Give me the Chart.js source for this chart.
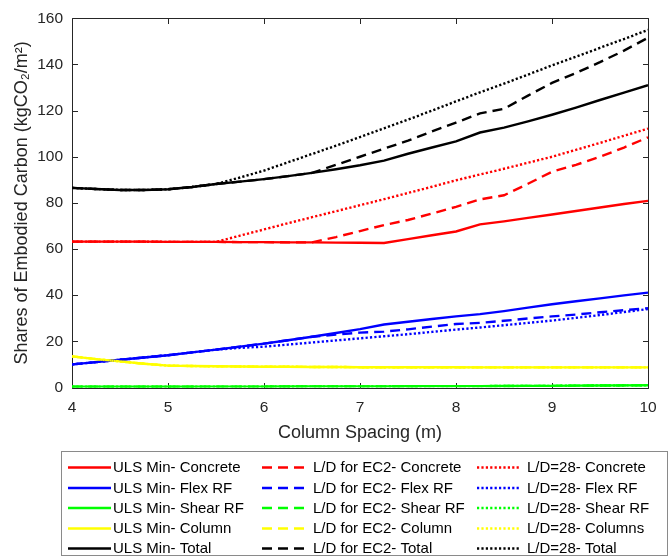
<!DOCTYPE html>
<html>
<head>
<meta charset="utf-8">
<script src="https://cdn.jsdelivr.net/npm/chart.js@4.4.1/dist/chart.umd.min.js"></script>
<style>
  html, body { margin: 0; padding: 0; background: #ffffff; }
  #wrap { width: 670px; height: 559px; position: relative; }
</style>
</head>
<body>
<div id="wrap"><canvas id="chart" width="670" height="559"></canvas></div>
<script>
// Column spacing (m)
const spacing = [4, 4.25, 4.5, 4.75, 5, 5.25, 5.5, 5.75, 6, 6.25, 6.5, 6.75, 7,
                 7.25, 7.5, 7.75, 8, 8.25, 8.5, 8.75, 9, 9.25, 9.5, 9.75, 10];

// ULS minimum design
const ulsConcrete = [63.2, 63.2, 63.2, 63.2, 63.1, 63.1, 63.1, 63.0, 63.0, 62.9, 62.9, 62.8, 62.7,
                     62.6, 64.3, 66.0, 67.6, 70.7, 72.0, 73.5, 75.0, 76.5, 78.0, 79.5, 80.9];
const ulsFlex     = [10.0, 11.0, 12.0, 13.0, 14.0, 15.2, 16.4, 17.7, 19.0, 20.5, 22.0, 23.6, 25.3,
                     27.3, 28.5, 29.7, 30.8, 31.8, 33.1, 34.6, 36.1, 37.4, 38.6, 39.9, 41.1];
const ulsShear    = [0.3, 0.3, 0.3, 0.3, 0.3, 0.35, 0.4, 0.4, 0.4, 0.45, 0.5, 0.5, 0.5,
                     0.5, 0.55, 0.6, 0.6, 0.6, 0.65, 0.7, 0.7, 0.8, 0.85, 0.9, 1.0];
const ulsColumn   = [13.5, 12.3, 11.3, 10.3, 9.5, 9.3, 9.2, 9.1, 9.0, 9.0, 8.9, 8.9, 8.8,
                     8.8, 8.8, 8.8, 8.8, 8.7, 8.7, 8.7, 8.7, 8.7, 8.7, 8.7, 8.7];
const ulsTotal    = [86.5, 86.0, 85.6, 85.6, 85.9, 86.9, 88.2, 89.2, 90.3, 91.6, 93.0, 94.6, 96.3,
                     98.3, 101.3, 104.0, 106.7, 110.5, 112.6, 115.3, 118.2, 121.3, 124.6, 127.8, 131.0];

// Span/depth limit from EC2
const ec2Concrete = [63.2, 63.2, 63.2, 63.2, 63.1, 63.1, 63.1, 63.0, 63.0, 62.9, 62.9, 65.2, 67.8,
                     70.4, 72.6, 75.4, 78.3, 81.5, 83.3, 88.3, 93.5, 96.5, 100.0, 104.0, 108.4];
const ec2Flex     = [10.0, 11.0, 12.0, 13.0, 14.0, 15.2, 16.4, 17.7, 19.0, 20.5, 22.0, 22.9, 23.8,
                     24.2, 25.2, 26.4, 27.5, 28.0, 28.9, 29.9, 30.8, 31.6, 32.6, 33.5, 34.4];
const ec2Shear    = [0.3, 0.3, 0.3, 0.3, 0.3, 0.35, 0.4, 0.4, 0.4, 0.45, 0.5, 0.5, 0.5,
                     0.5, 0.55, 0.6, 0.6, 0.6, 0.65, 0.7, 0.7, 0.8, 0.85, 0.9, 1.0];
const ec2Column   = [13.5, 12.3, 11.3, 10.3, 9.5, 9.3, 9.2, 9.1, 9.0, 9.0, 8.9, 8.9, 8.8,
                     8.8, 8.8, 8.8, 8.8, 8.7, 8.7, 8.7, 8.7, 8.7, 8.7, 8.7, 8.7];
const ec2Total    = [86.5, 86.0, 85.6, 85.6, 85.9, 86.9, 88.2, 89.2, 90.3, 91.6, 93.0, 96.5, 100.0,
                     103.5, 107.0, 111.0, 114.8, 118.8, 120.8, 126.5, 132.0, 136.3, 141.0, 146.0, 151.6];

// Span/depth fixed at 28
const ld28Concrete = [63.2, 63.2, 63.2, 63.2, 63.1, 63.1, 63.1, 65.8, 68.5, 71.2, 73.8, 76.4, 79.0,
                      81.6, 84.3, 87.0, 89.8, 92.3, 94.8, 97.4, 100.0, 103.0, 106.0, 109.1, 112.2];
const ld28Flex     = [10.0, 11.0, 12.0, 13.0, 14.0, 15.2, 16.4, 17.2, 17.7, 18.6, 19.5, 20.4, 21.3,
                      22.2, 23.1, 24.1, 25.1, 26.0, 27.0, 28.0, 29.0, 30.2, 31.4, 32.7, 34.0];
const ld28Shear    = [0.3, 0.3, 0.3, 0.3, 0.3, 0.35, 0.4, 0.4, 0.4, 0.45, 0.5, 0.5, 0.5,
                      0.5, 0.55, 0.6, 0.6, 0.6, 0.65, 0.7, 0.7, 0.8, 0.85, 0.9, 1.0];
const ld28Column   = [13.5, 12.3, 11.3, 10.3, 9.5, 9.3, 9.2, 9.1, 9.0, 9.0, 8.9, 8.9, 8.8,
                      8.8, 8.8, 8.8, 8.8, 8.7, 8.7, 8.7, 8.7, 8.7, 8.7, 8.7, 8.7];
const ld28Total    = [86.5, 86.0, 85.6, 85.6, 85.9, 86.9, 88.2, 91.0, 94.0, 97.6, 101.2, 104.8, 108.5,
                      112.3, 116.1, 120.0, 124.0, 127.9, 131.7, 135.6, 139.6, 143.4, 147.2, 151.0, 155.0];

const xTicks = [4, 5, 6, 7, 8, 9, 10];
const yTicks = [0, 20, 40, 60, 80, 100, 120, 140, 160];

const seriesNames = [
  'ULS Min- Concrete', 'ULS Min- Flex RF', 'ULS Min- Shear RF', 'ULS Min- Column', 'ULS Min- Total',
  'L/D for EC2- Concrete', 'L/D for EC2- Flex RF', 'L/D for EC2- Shear RF', 'L/D for EC2- Column', 'L/D for EC2- Total',
  'L/D=28- Concrete', 'L/D=28- Flex RF', 'L/D=28- Shear RF', 'L/D=28- Columns', 'L/D=28- Total'
];
const seriesValues = [
  ulsConcrete, ulsFlex, ulsShear, ulsColumn, ulsTotal,
  ec2Concrete, ec2Flex, ec2Shear, ec2Column, ec2Total,
  ld28Concrete, ld28Flex, ld28Shear, ld28Column, ld28Total
];

const colours = ['#ff0000', '#0000ff', '#00ff00', '#ffff00', '#000000'];
const dashes = [[], [10, 6], [2.2, 2.2]];

const FONT = '"Liberation Sans", Arial, Helvetica, sans-serif';
const INK = '#262626';

const datasets = seriesValues.map((vals, i) => ({
  label: seriesNames[i],
  data: vals.map((v, k) => ({ x: spacing[k], y: v })),
  borderColor: colours[i % 5],
  backgroundColor: colours[i % 5],
  borderWidth: 2.4,
  borderDash: dashes[Math.floor(i / 5)],
  borderCapStyle: 'butt',
  pointRadius: 0,
  tension: 0,
  fill: false,
  order: seriesValues.length - i
}));

// Box around the axes with inward tick marks on all four sides
const framePlugin = {
  id: 'frame',
  beforeDatasetsDraw(chart) {
    const { ctx, chartArea: a, scales } = chart;
    const L = Math.round(a.left) + 0.5, R = Math.round(a.right) + 0.5;
    const T = Math.round(a.top) + 0.5, B = Math.round(a.bottom) + 0.5;
    const len = 5.5;
    ctx.save();
    ctx.strokeStyle = INK;
    ctx.lineWidth = 1;
    ctx.beginPath();
    ctx.rect(L, T, R - L, B - T);
    xTicks.forEach(v => {
      const px = Math.round(scales.x.getPixelForValue(v)) + 0.5;
      ctx.moveTo(px, B); ctx.lineTo(px, B - len);
      ctx.moveTo(px, T); ctx.lineTo(px, T + len);
    });
    yTicks.forEach(v => {
      const py = Math.round(scales.y.getPixelForValue(v)) + 0.5;
      ctx.moveTo(L, py); ctx.lineTo(L + len, py);
      ctx.moveTo(R, py); ctx.lineTo(R - len, py);
    });
    ctx.stroke();
    ctx.restore();
  }
};

// Three-column legend below the axes
const legendPlugin = {
  id: 'gridLegend',
  afterDraw(chart) {
    const { ctx } = chart;
    const box = { x: 61.5, y: 451.5, w: 606, h: 104 };
    const rowY = [467.5, 488, 508, 528.5, 548.5];
    const colLine = [68, 262, 477];
    const colText = [113, 313, 527];
    const lineLen = 43;
    ctx.save();
    ctx.fillStyle = '#ffffff';
    ctx.fillRect(box.x, box.y, box.w, box.h);
    ctx.strokeStyle = '#8a8a8a';
    ctx.lineWidth = 1;
    ctx.strokeRect(box.x, box.y, box.w, box.h);
    ctx.font = '15px ' + FONT;
    ctx.textBaseline = 'middle';
    ctx.textAlign = 'left';
    chart.data.datasets.forEach((ds, i) => {
      const col = Math.floor(i / 5), row = i % 5;
      const y = rowY[row];
      ctx.beginPath();
      ctx.strokeStyle = ds.borderColor;
      ctx.lineWidth = ds.borderWidth;
      ctx.lineCap = 'butt';
      ctx.setLineDash(ds.borderDash);
      ctx.moveTo(colLine[col], y);
      ctx.lineTo(colLine[col] + lineLen, y);
      ctx.stroke();
      ctx.setLineDash([]);
      ctx.fillStyle = '#000000';
      ctx.fillText(ds.label, colText[col], y + 0.5);
    });
    ctx.restore();
  }
};

new Chart(document.getElementById('chart'), {
  type: 'line',
  data: { datasets },
  options: {
    responsive: false,
    animation: false,
    devicePixelRatio: 1,
    layout: { padding: { left: 0, right: 22, top: 15, bottom: 109 } },
    plugins: { legend: { display: false }, tooltip: { enabled: false } },
    scales: {
      x: {
        type: 'linear',
        min: 4, max: 10,
        afterBuildTicks: s => { s.ticks = xTicks.map(v => ({ value: v })); },
        afterFit: s => { s.height = 62.5; },
        grid: { display: false, drawTicks: false },
        border: { display: false },
        ticks: { color: INK, padding: 11, font: { family: FONT, size: 15.5 }, maxRotation: 0 },
        title: {
          display: true, text: 'Column Spacing (m)', color: INK,
          font: { family: FONT, size: 18 }, padding: { top: 0, bottom: 6 }
        }
      },
      y: {
        min: 0, max: 160,
        afterBuildTicks: s => { s.ticks = yTicks.map(v => ({ value: v })); },
        afterFit: s => { s.width = 72; },
        grid: { display: false, drawTicks: false },
        border: { display: false },
        ticks: { color: INK, padding: 9, font: { family: FONT, size: 15.5 } },
        title: {
          display: true, text: 'Shares of Embodied Carbon (kgCO\u2082/m\u00b2)', color: INK,
          font: { family: FONT, size: 18 }, padding: { top: 11, bottom: 0 }
        }
      }
    }
  },
  plugins: [framePlugin, legendPlugin]
});
</script>
</body>
</html>
